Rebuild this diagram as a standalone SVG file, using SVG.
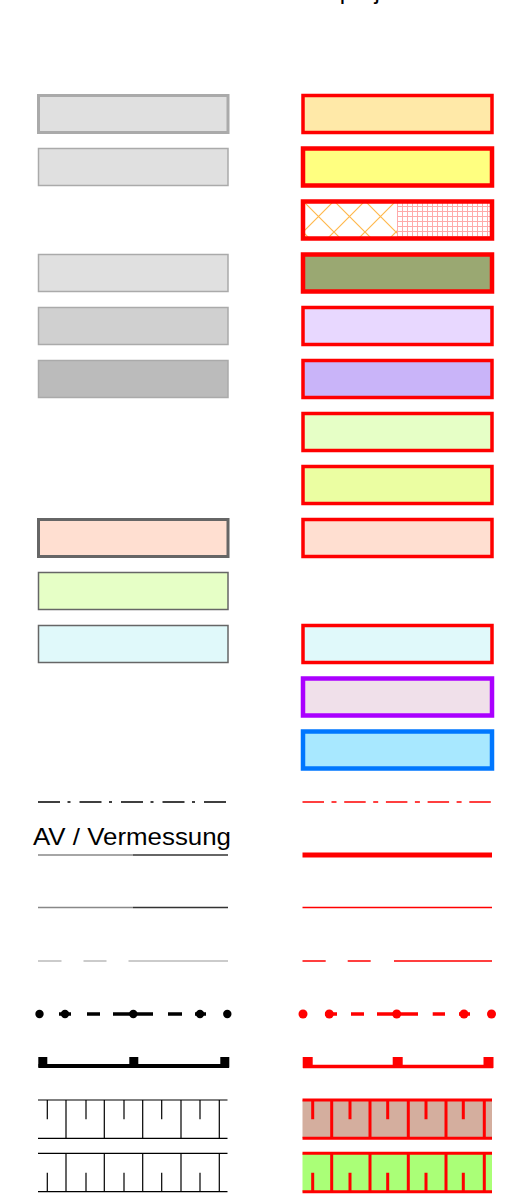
<svg xmlns="http://www.w3.org/2000/svg" width="524" height="1202" viewBox="0 0 524 1202">
<style>
.lb{stroke:#aaaaaa;stroke-width:1.5}
.lb2{stroke:#666666;stroke-width:1.5}
.rb{stroke:#ff0000;stroke-width:3.5}
.rbt{stroke:#ff0000;stroke-width:4.5}
.txt{font-family:"Liberation Sans",Arial,sans-serif;fill:#000}
</style>
<defs>
<pattern id="diag" patternUnits="userSpaceOnUse" x="303" y="201" width="31" height="31">
<path d="M0,0 L31,31 M31,0 L0,31" stroke="#ffb84d" stroke-width="1.2" fill="none"/>
</pattern>
<pattern id="grid" patternUnits="userSpaceOnUse" x="397" y="201" width="5" height="5">
<path d="M0,0.5 H5 M0.5,0 V5" stroke="#ffaaaa" stroke-width="1" fill="none"/>
</pattern>
</defs>
<text class="txt" x="297" y="-1" font-size="24">Bauprojekt</text>

<g id="left-boxes">
<rect id="l0" x="38.5" y="95.5" width="189.5" height="37" fill="#e0e0e0" stroke="#aaaaaa" stroke-width="3"/>
<rect id="l1" class="lb" x="38.5" y="148.5" width="189.5" height="37" fill="#e0e0e0"/>
<rect id="l3" class="lb" x="38.5" y="254.5" width="189.5" height="37" fill="#e0e0e0"/>
<rect id="l4" class="lb" x="38.5" y="307.5" width="189.5" height="37" fill="#d0d0d0"/>
<rect id="l5" class="lb" x="38.5" y="360.5" width="189.5" height="37" fill="#bbbbbb"/>
<rect id="l8" x="38.5" y="519.5" width="189.5" height="37" fill="#ffdfd1" stroke="#666666" stroke-width="3"/>
<rect id="l9" class="lb2" x="38.5" y="572.5" width="189.5" height="37" fill="#e6ffc6" stroke-width="1"/>
<rect id="l10" class="lb2" x="38.5" y="625.5" width="189.5" height="37" fill="#e0f9fa"/>
</g>

<g id="right-boxes">
<rect id="r0" class="rb" x="303" y="95.5" width="189" height="37" fill="#ffe9a8"/>
<rect id="r1" class="rbt" x="303" y="148.5" width="189" height="37" fill="#ffff80"/>
<g id="r2">
<rect x="303" y="201.5" width="94" height="37" fill="#ffffff"/>
<rect x="303" y="201.5" width="94" height="37" fill="url(#diag)"/>
<rect x="397" y="201.5" width="95" height="37" fill="url(#grid)"/>
<rect class="rbt" x="303" y="201.5" width="189" height="37" fill="none"/>
</g>
<rect id="r3" class="rbt" x="303" y="254.5" width="189" height="37" fill="#9aa872"/>
<rect id="r4" class="rb" x="303" y="307.5" width="189" height="37" fill="#e8d8ff"/>
<rect id="r5" class="rb" x="303" y="360.5" width="189" height="37" fill="#c9b4f9"/>
<rect id="r6" class="rb" x="303" y="413.5" width="189" height="37" fill="#e6ffc6"/>
<rect id="r7" class="rb" x="303" y="466.5" width="189" height="37" fill="#ebfea2"/>
<rect id="r8" class="rb" x="303" y="519.5" width="189" height="37" fill="#ffdfd1"/>
<rect id="r10" class="rb" x="303" y="625.5" width="189" height="37" fill="#e0f9fa"/>
<rect id="r11" x="303" y="678.5" width="189" height="37" fill="#f0e0ea" stroke="#aa00ff" stroke-width="4.5"/>
<rect id="r12" x="303" y="731.5" width="189" height="37" fill="#a8e8ff" stroke="#0077ff" stroke-width="4.5"/>
</g>

<g id="left-lines">
<line x1="38" y1="802" x2="228" y2="802" stroke="#000" stroke-width="1.7" stroke-dasharray="22 7.5 3 9"/>
<text class="txt" x="33" y="845" font-size="24" textLength="198" lengthAdjust="spacingAndGlyphs">AV / Vermessung</text>
<line x1="38" y1="855" x2="133" y2="855" stroke="#888" stroke-width="1.3"/>
<line x1="133" y1="855" x2="228" y2="855" stroke="#333" stroke-width="1.3"/>
<line x1="38" y1="907.5" x2="133" y2="907.5" stroke="#888" stroke-width="1.3"/>
<line x1="133" y1="907.5" x2="228" y2="907.5" stroke="#333" stroke-width="1.3"/>
<path d="M38,961 H61.5 M83.5,961 H106.5 M128.5,961 H228" stroke="#bbbbbb" stroke-width="1.3" fill="none"/>
<g id="l-dots" fill="#000">
<path d="M59,1014 H71 M87,1014 H100 M113,1014 H153 M168,1014 H182 M195,1014 H206" stroke="#000" stroke-width="3.3" fill="none"/>
<circle cx="39.5" cy="1014" r="4.2"/>
<circle cx="65" cy="1014" r="4.2"/>
<circle cx="133.3" cy="1014" r="4.2"/>
<circle cx="200" cy="1014" r="4.2"/>
<circle cx="227.3" cy="1014" r="4.2"/>
</g>
<g id="l-bracket" fill="#000">
<line x1="38.5" y1="1066" x2="229" y2="1066" stroke="#000" stroke-width="4"/>
<rect x="38.3" y="1057" width="9" height="10.5"/>
<rect x="129.3" y="1057" width="9" height="10.5"/>
<rect x="220.3" y="1057" width="9" height="10.5"/>
</g>
<g id="l-wall1" stroke="#000" stroke-width="1.2" fill="none">
<path d="M38,1100 H227.5 M38,1138.3 H227.5"/>
<path d="M66,1100 V1138.3 M104.3,1100 V1138.3 M142.7,1100 V1138.3 M181,1100 V1138.3 M219.3,1100 V1138.3"/>
<path d="M47.3,1100 V1119.3 M86,1100 V1119.3 M124,1100 V1119.3 M161.7,1100 V1119.3 M200,1100 V1119.3"/>
</g>
<g id="l-wall2" stroke="#000" stroke-width="1.2" fill="none">
<path d="M38,1153.3 H227.5 M38,1191.7 H227.5"/>
<path d="M66,1153.3 V1191.7 M104.3,1153.3 V1191.7 M142.7,1153.3 V1191.7 M181,1153.3 V1191.7 M219.3,1153.3 V1191.7"/>
<path d="M47.3,1172.7 V1191.7 M86,1172.7 V1191.7 M124,1172.7 V1191.7 M161.7,1172.7 V1191.7 M200,1172.7 V1191.7"/>
</g>
</g>

<g id="right-lines">
<line x1="302.5" y1="802" x2="492" y2="802" stroke="#ff0000" stroke-width="1.6" stroke-dasharray="21.5 7.5 5 7.7"/>
<line x1="302.5" y1="855" x2="492" y2="855" stroke="#ff0000" stroke-width="5"/>
<line x1="302.5" y1="907.5" x2="492" y2="907.5" stroke="#ff0000" stroke-width="1.5"/>
<path d="M302.5,961 H325.7 M347.7,961 H370.7 M394,961 H492" stroke="#ff0000" stroke-width="1.6" fill="none"/>
<g id="r-dots" fill="#ff0000">
<path d="M325,1014 H337 M351,1014 H364 M377,1014 H418 M432.7,1014 H445 M459,1014 H470" stroke="#ff0000" stroke-width="3.3" fill="none"/>
<circle cx="303" cy="1014" r="4.5"/>
<circle cx="329.3" cy="1014" r="4.5"/>
<circle cx="396.7" cy="1014" r="4.5"/>
<circle cx="464" cy="1014" r="4.5"/>
<circle cx="491.5" cy="1014" r="4.5"/>
</g>
<g id="r-bracket" fill="#ff0000">
<line x1="303" y1="1066.5" x2="493" y2="1066.5" stroke="#ff0000" stroke-width="3.5"/>
<rect x="302.7" y="1057" width="10" height="11"/>
<rect x="392.7" y="1057" width="10" height="11"/>
<rect x="483.5" y="1057" width="10" height="11"/>
</g>
<g id="r-wall1">
<rect x="302.5" y="1100" width="189.5" height="38" fill="#d4ae9e"/>
<g stroke="#ff0000" stroke-width="3" fill="none">
<path d="M302.5,1100 H492 M302.5,1138.3 H492"/>
<path d="M331.7,1100 V1138.3 M370,1100 V1138.3 M408.3,1100 V1138.3 M446,1100 V1138.3 M484.3,1100 V1138.3"/>
<path d="M312.7,1100 V1119.3 M350,1100 V1119.3 M387.7,1100 V1119.3 M426,1100 V1119.3 M463.3,1100 V1119.3"/>
</g>
</g>
<g id="r-wall2">
<rect x="302.5" y="1153.3" width="189.5" height="38.4" fill="#aaff77"/>
<g stroke="#ff0000" stroke-width="3" fill="none">
<path d="M302.5,1153.3 H492 M302.5,1191.7 H492"/>
<path d="M331.7,1153.3 V1191.7 M370,1153.3 V1191.7 M408.3,1153.3 V1191.7 M446,1153.3 V1191.7 M484.3,1153.3 V1191.7"/>
<path d="M312.7,1172.7 V1191.7 M350,1172.7 V1191.7 M387.7,1172.7 V1191.7 M426,1172.7 V1191.7 M463.3,1172.7 V1191.7"/>
</g>
</g>
</g>
</svg>
